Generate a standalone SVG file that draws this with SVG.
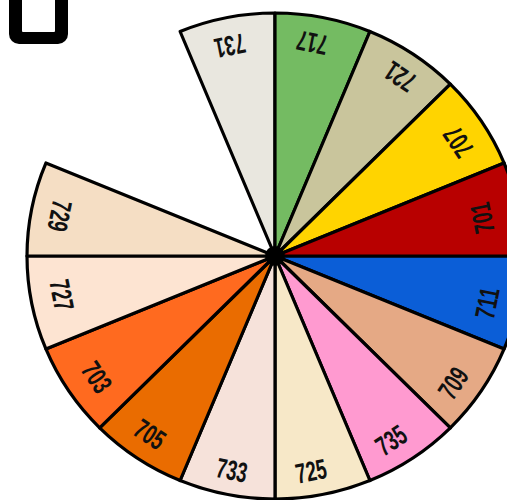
<svg xmlns="http://www.w3.org/2000/svg" width="507" height="500" viewBox="0 0 507 500">
<style>
.w{stroke:#000;stroke-width:3.2;stroke-linejoin:round}
.t{font-family:"Liberation Sans",Arial,sans-serif;font-weight:bold;font-size:28px;fill:#111;text-anchor:middle}
</style>
<rect width="507" height="500" fill="#fff"/>
<g id="corner">
<rect x="9" y="-20" width="59" height="64" rx="10" fill="#000"/>
<rect x="22" y="-20" width="33" height="52" rx="1" fill="#fff"/>
</g>
<g id="w711"><path class="w" fill="#0b5ed7" d="M275,256 L523,256 A248,243 0 0 1 504.12,348.99 Z"/><text class="t" textLength="31" lengthAdjust="spacingAndGlyphs" transform="translate(487,303) rotate(-78.75)" y="10">711</text></g>
<g id="w709"><path class="w" fill="#e5a985" d="M275,256 L504.12,348.99 A248,243 0 0 1 450.36,427.83 Z"/><text class="t" textLength="31" lengthAdjust="spacingAndGlyphs" transform="translate(453,383) rotate(-56.25)" y="10">709</text></g>
<g id="w735"><path class="w" fill="#ff9ad0" d="M275,256 L450.36,427.83 A248,243 0 0 1 369.9,480.5 Z"/><text class="t" textLength="31" lengthAdjust="spacingAndGlyphs" transform="translate(391,440) rotate(-33.75)" y="10">735</text></g>
<g id="w725"><path class="w" fill="#f7e8c8" d="M275,256 L369.9,480.5 A248,243 0 0 1 275,499 Z"/><text class="t" textLength="31" lengthAdjust="spacingAndGlyphs" transform="translate(311,471) rotate(-11.25)" y="10">725</text></g>
<g id="w733"><path class="w" fill="#f6e2da" d="M275,256 L275,499 A248,243 0 0 1 180.1,480.5 Z"/><text class="t" textLength="31" lengthAdjust="spacingAndGlyphs" transform="translate(232,470) rotate(11.25)" y="10">733</text></g>
<g id="w705"><path class="w" fill="#ea6c00" d="M275,256 L180.1,480.5 A248,243 0 0 1 99.64,427.83 Z"/><text class="t" textLength="31" lengthAdjust="spacingAndGlyphs" transform="translate(150,434) rotate(33.75)" y="10">705</text></g>
<g id="w703"><path class="w" fill="#ff6a1f" d="M275,256 L99.64,427.83 A248,243 0 0 1 45.88,348.99 Z"/><text class="t" textLength="31" lengthAdjust="spacingAndGlyphs" transform="translate(97,377) rotate(56.25)" y="10">703</text></g>
<g id="w727"><path class="w" fill="#fde4d2" d="M275,256 L45.88,348.99 A248,243 0 0 1 27,256 Z"/><text class="t" textLength="31" lengthAdjust="spacingAndGlyphs" transform="translate(62,295) rotate(78.75)" y="10">727</text></g>
<g id="w729"><path class="w" fill="#f5dec4" d="M275,256 L27,256 A248,243 0 0 1 45.88,163.01 Z"/><text class="t" textLength="31" lengthAdjust="spacingAndGlyphs" transform="translate(60,216) rotate(101.25)" y="10">729</text></g>
<g id="w731"><path class="w" fill="#e9e7df" d="M275,256 L180.1,31.5 A248,243 0 0 1 275,13 Z"/><text class="t" textLength="31" lengthAdjust="spacingAndGlyphs" transform="translate(230,46) rotate(168.75)" y="10">731</text></g>
<g id="w717"><path class="w" fill="#74bb62" d="M275,256 L275,13 A248,243 0 0 1 369.9,31.5 Z"/><text class="t" textLength="31" lengthAdjust="spacingAndGlyphs" transform="translate(312,43) rotate(191.25)" y="10">717</text></g>
<g id="w721"><path class="w" fill="#c9c59c" d="M275,256 L369.9,31.5 A248,243 0 0 1 450.36,84.17 Z"/><text class="t" textLength="31" lengthAdjust="spacingAndGlyphs" transform="translate(400,77) rotate(213.75)" y="10">721</text></g>
<g id="w707"><path class="w" fill="#ffd400" d="M275,256 L450.36,84.17 A248,243 0 0 1 504.12,163.01 Z"/><text class="t" textLength="31" lengthAdjust="spacingAndGlyphs" transform="translate(458,142) rotate(236.25)" y="10">707</text></g>
<g id="w701"><path class="w" fill="#b80000" d="M275,256 L504.12,163.01 A248,243 0 0 1 523,256 Z"/><text class="t" textLength="31" lengthAdjust="spacingAndGlyphs" transform="translate(482,218) rotate(258.75)" y="10">701</text></g>
<g id="hub"><circle cx="275" cy="256" r="10" fill="#000"/></g>
</svg>
